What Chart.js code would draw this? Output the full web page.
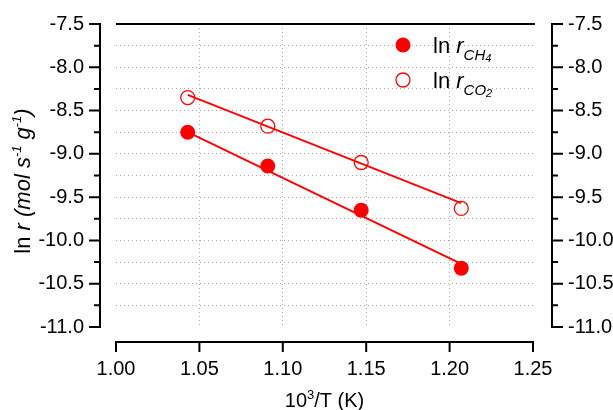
<!DOCTYPE html>
<html>
<head>
<meta charset="utf-8">
<script src="https://cdn.jsdelivr.net/npm/chart.js@4"></script>
<style>
  html, body { margin: 0; padding: 0; background: #fff; }
  #wrap { width: 613px; height: 410px; position: relative; }
</style>
</head>
<body>
<div id="wrap"><canvas id="arrh"></canvas></div>
<script>
// Arrhenius data
const invT = [1.043, 1.091, 1.147, 1.207];
const lnrCH4 = [-8.75, -9.14, -9.65, -10.32];
const lnrCO2 = [-8.35, -8.68, -9.10, -9.63];
// linear fit end points
const fitX = [1.043, 1.207];
const fitCH4 = [-8.75, -10.27];
const fitCO2 = [-8.32, -9.57];

const FONT = '"Liberation Sans", Arial, sans-serif';
const RED = '#ff0000';

function pts(xs, ys) {
    return xs.map((x, i) => ({ x: x, y: ys[i] }));
}

function near(a, b) { return Math.abs(a - b) < 1e-6; }

// draw a row of text pieces (font, raise) one after another
function drawRuns(c, runs, x, y) {
    let cx = x;
    runs.forEach(r => {
        c.font = r.font;
        c.fillText(r.text, cx, y + (r.dy || 0));
        cx += c.measureText(r.text).width;
    });
    return cx;
}
function runsWidth(c, runs) {
    let w = 0;
    runs.forEach(r => { c.font = r.font; w += c.measureText(r.text).width; });
    return w;
}

const axesPlugin = {
    id: 'originAxes',
    afterDraw(chart) {
        const c = chart.ctx;
        const a = chart.chartArea;
        const xs = chart.scales.x;
        const ys = chart.scales.y;
        const leftX = 100, rightX = 552, botY = 342;

        c.save();
        c.strokeStyle = '#000';
        c.lineWidth = 2;
        c.lineCap = 'butt';

        // top frame line
        c.beginPath();
        c.moveTo(a.left, a.top);
        c.lineTo(a.right + 2, a.top);
        c.stroke();

        // left + right axis lines
        c.beginPath();
        c.moveTo(leftX, a.top - 1);
        c.lineTo(leftX, a.bottom + 1);
        c.moveTo(rightX, a.top - 1);
        c.lineTo(rightX, a.bottom + 1);
        c.stroke();

        // y ticks
        ys.ticks.forEach(t => {
            const py = ys.getPixelForValue(t.value);
            const major = near(Math.round(t.value * 2) / 2, t.value);
            const len = major ? 11 : 6;
            c.beginPath();
            c.moveTo(leftX, py);
            c.lineTo(leftX - len, py);
            c.moveTo(rightX, py);
            c.lineTo(rightX + len, py);
            c.stroke();
        });

        // bottom axis
        c.beginPath();
        c.moveTo(a.left - 1, botY);
        c.lineTo(a.right + 1, botY);
        c.stroke();
        xs.ticks.forEach(t => {
            const px = xs.getPixelForValue(t.value);
            c.beginPath();
            c.moveTo(px, botY);
            c.lineTo(px, botY + 10);
            c.stroke();
        });

        c.fillStyle = '#000';
        c.textBaseline = 'alphabetic';

        // x title
        const xRuns = [
            { text: '10', font: '20px ' + FONT },
            { text: '3', font: '13px ' + FONT, dy: -8 },
            { text: '/T (K)', font: '20px ' + FONT }
        ];
        const xw = runsWidth(c, xRuns);
        drawRuns(c, xRuns, (a.left + a.right) / 2 - xw / 2, 407);

        // y title
        const yRuns = [
            { text: 'ln ', font: '22px ' + FONT },
            { text: 'r (mol s', font: 'italic 22px ' + FONT },
            { text: '-1', font: 'italic 13px ' + FONT, dy: -9 },
            { text: ' g', font: 'italic 22px ' + FONT },
            { text: '-1', font: 'italic 13px ' + FONT, dy: -9 },
            { text: ')', font: 'italic 22px ' + FONT }
        ];
        const yw = runsWidth(c, yRuns);
        c.save();
        c.translate(30, 181);
        c.rotate(-Math.PI / 2);
        drawRuns(c, yRuns, -yw / 2, 0);
        c.restore();

        // legend
        c.fillStyle = RED;
        c.beginPath();
        c.arc(403, 45, 7.5, 0, Math.PI * 2);
        c.fill();
        c.strokeStyle = RED;
        c.lineWidth = 1.3;
        c.beginPath();
        c.arc(403, 80, 7, 0, Math.PI * 2);
        c.stroke();

        c.fillStyle = '#000';
        drawRuns(c, [
            { text: 'ln ', font: '22px ' + FONT },
            { text: 'r', font: 'italic 22px ' + FONT },
            { text: 'CH', font: 'italic 15px ' + FONT, dy: 7 },
            { text: '4', font: 'italic 11px ' + FONT, dy: 9 }
        ], 433, 53);
        drawRuns(c, [
            { text: 'ln ', font: '22px ' + FONT },
            { text: 'r', font: 'italic 22px ' + FONT },
            { text: 'CO', font: 'italic 15px ' + FONT, dy: 7 },
            { text: '2', font: 'italic 11px ' + FONT, dy: 9 }
        ], 433, 88);

        c.restore();
    }
};

function yLabel(v) {
    return near(Math.round(v * 2) / 2, v) ? v.toFixed(1) : '';
}

// fixed box sizes so the plot area lands where the original one is
function fixV(w) {
    return s => { s.width = w; s.paddingTop = 0; s.paddingBottom = 0; };
}

const ctx = document.getElementById('arrh').getContext('2d');
const chart = new Chart(ctx, {
    type: 'scatter',
    data: {
        datasets: [
            {
                label: 'fit CH4',
                data: pts(fitX, fitCH4),
                showLine: true,
                borderColor: RED,
                borderWidth: 1.9,
                pointRadius: 0
            },
            {
                label: 'fit CO2',
                data: pts(fitX, fitCO2),
                showLine: true,
                borderColor: RED,
                borderWidth: 1.9,
                pointRadius: 0
            },
            {
                label: 'ln r CH4',
                data: pts(invT, lnrCH4),
                pointRadius: 7.5,
                backgroundColor: RED,
                borderWidth: 0
            },
            {
                label: 'ln r CO2',
                data: pts(invT, lnrCO2),
                pointRadius: 7,
                backgroundColor: 'rgba(0,0,0,0)',
                borderColor: RED,
                borderWidth: 1.3
            }
        ]
    },
    options: {
        responsive: true,
        maintainAspectRatio: false,
        animation: false,
        layout: { padding: { top: 24, left: 0, right: 0, bottom: 0 } },
        scales: {
            x: {
                type: 'linear',
                min: 1.0,
                max: 1.25,
                afterFit: s => { s.height = 83; s.paddingLeft = 0; s.paddingRight = 0; },
                ticks: {
                    stepSize: 0.05,
                    autoSkip: false,
                    maxRotation: 0,
                    padding: 30,
                    color: '#000',
                    font: { family: FONT, size: 20 },
                    callback: v => v.toFixed(2)
                },
                grid: {
                    drawTicks: false,
                    lineWidth: 1,
                    color: c => (c.tick && (near(c.tick.value, 1.0) || near(c.tick.value, 1.25))) ? 'rgba(0,0,0,0)' : '#a8a8a8'
                },
                border: { display: false, dash: [1, 3] }
            },
            y: {
                type: 'linear',
                position: 'left',
                min: -11,
                max: -7.5,
                afterFit: fixV(116),
                ticks: {
                    stepSize: 0.25,
                    autoSkip: false,
                    padding: 32,
                    color: '#000',
                    font: { family: FONT, size: 20 },
                    callback: yLabel
                },
                grid: {
                    drawTicks: false,
                    lineWidth: 1,
                    color: c => (c.tick && (near(c.tick.value, -11) || near(c.tick.value, -7.5))) ? 'rgba(0,0,0,0)' : '#a8a8a8'
                },
                border: { display: false, dash: [1, 3] }
            },
            y2: {
                type: 'linear',
                position: 'right',
                min: -11,
                max: -7.5,
                afterFit: fixV(80),
                ticks: {
                    stepSize: 0.25,
                    autoSkip: false,
                    padding: 35,
                    color: '#000',
                    font: { family: FONT, size: 20 },
                    callback: yLabel
                },
                grid: { display: false, drawTicks: false },
                border: { display: false }
            }
        },
        plugins: {
            legend: { display: false },
            tooltip: { enabled: false }
        }
    },
    plugins: [axesPlugin]
});
</script>
</body>
</html>
